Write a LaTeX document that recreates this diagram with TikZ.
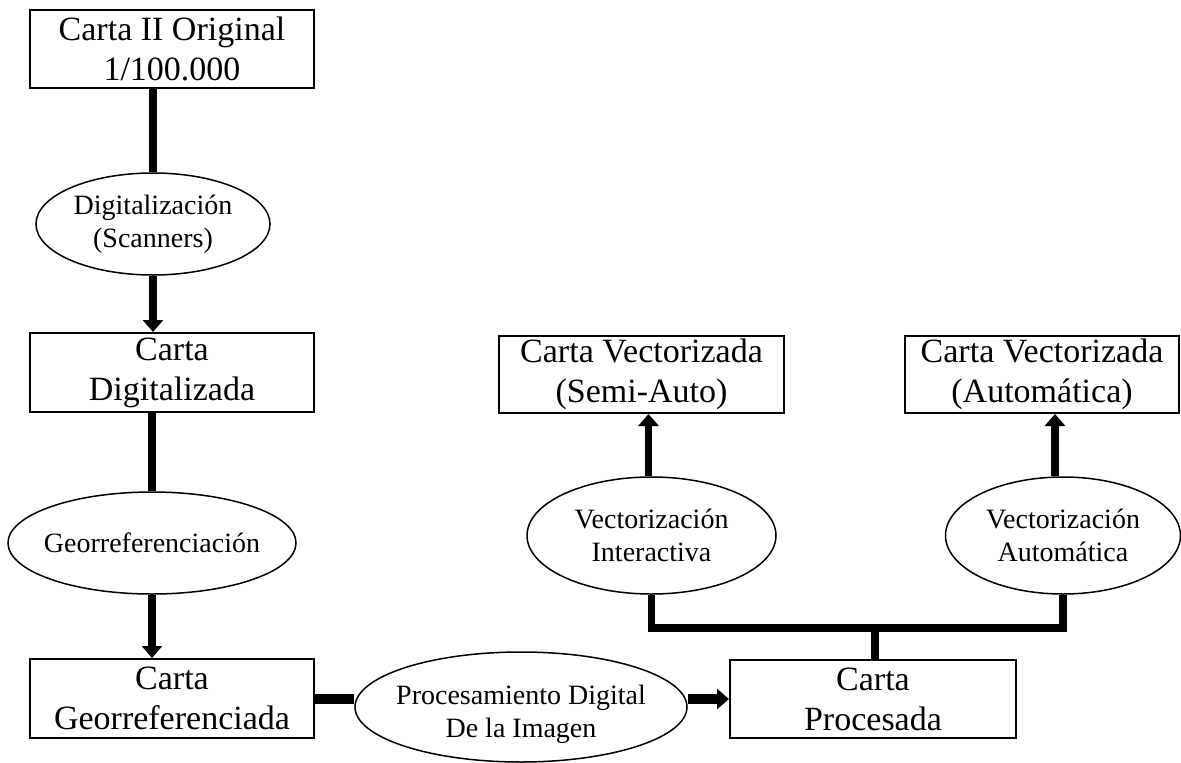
\documentclass[tikz,border=0pt]{standalone}
\usepackage{fontspec}
\setmainfont{Liberation Serif}
\usetikzlibrary{shapes.geometric,arrows.meta}
\tikzset{
  cbox/.style={draw, line width=2pt, inner sep=0pt, align=center,
    font=\fontsize{34}{40}\selectfont},
  proc/.style={draw, ellipse, line width=1.5pt, inner sep=0pt},
  etext/.style={align=center, inner sep=0pt, font=\fontsize{28}{33}\selectfont},
  conn/.style={line width=7.5pt, line join=miter},
  arr/.style={conn, -{Triangle[length=12pt,width=20pt]}},
}
\begin{document}
\begin{tikzpicture}[x=1pt,y=-1pt]
\useasboundingbox (0,0) rectangle (1181,763);
% boxes
\node[cbox, minimum width=284pt, minimum height=78pt] (b1) at (172,49) {Carta II Original\\1/100.000};
\node[cbox, minimum width=284pt, minimum height=79pt] (b2) at (172,372.5) {Carta\\Digitalizada};
\node[cbox, minimum width=284pt, minimum height=79pt] (b3) at (172,698.5) {Carta\\Georreferenciada};
\node[cbox, minimum width=286pt, minimum height=78pt] (b4) at (873,699) {Carta\\Procesada};
\node[cbox, minimum width=285pt, minimum height=77pt] (b5) at (641.5,374.5) {Carta Vectorizada\\(Semi-Auto)};
\node[cbox, minimum width=274pt, minimum height=77pt] (b6) at (1042,374.5) {Carta Vectorizada\\(Automática)};
% ellipses
\node[proc, minimum width=234pt, minimum height=102pt,
  label={[etext]center:{Digitalización\\(Scanners)}}] (e1) at (153,224) {};
\node[proc, minimum width=288pt, minimum height=102pt,
  label={[etext]center:{Georreferenciación}}] (e2) at (152,543) {};
\node[proc, minimum width=332pt, minimum height=110pt,
  label={[etext, yshift=-7pt]center:{Procesamiento Digital\\De la Imagen}}] (e3) at (521,707) {};
\node[proc, minimum width=249pt, minimum height=117pt,
  label={[etext]center:{Vectorización\\Interactiva}}] (e4) at (651.5,535.5) {};
\node[proc, minimum width=235pt, minimum height=117pt,
  label={[etext]center:{Vectorización\\Automática}}] (e5) at (1063,535.5) {};
\coordinate (j) at (875,628);
% connectors
\draw[conn] (e1.north |- b1.south) -- (e1.north);
\draw[arr] (e1.south) -- (e1.south |- b2.north);
\draw[conn] (e2.north |- b2.south) -- (e2.north);
\draw[arr] (e2.south) -- (e2.south |- b3.north);
\draw[conn, line width=10pt] (b3.east) -- (e3.west |- b3.east);
\draw[arr, line width=10pt, -{Triangle[length=12pt,width=20pt]}] (e3.east |- b4.west) -- (b4.west);
\draw[conn] (b4.north -| j) -- (j);
\draw[conn] (e4.south) -- (e4.south |- j) -- (e5.south |- j) -- (e5.south);
\draw[arr] ([xshift=-3pt]e4.north) -- ([xshift=-3pt]e4.north |- b5.south);
\draw[arr] ([xshift=-8pt]e5.north) -- ([xshift=-8pt]e5.north |- b6.south);
\end{tikzpicture}
\end{document}
